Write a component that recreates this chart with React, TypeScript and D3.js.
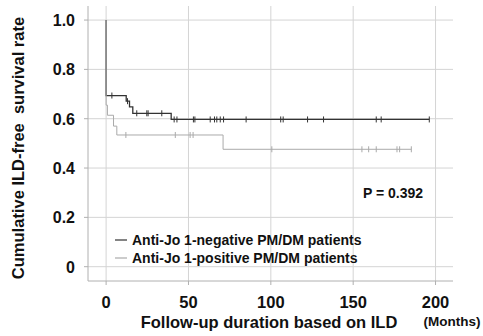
import * as d3 from 'd3';

// Kaplan-Meier steps
const negTimes = [0, 12.2, 14.2, 16.2, 39.5];
const negSurv = [0.694, 0.671, 0.648, 0.622, 0.597];
const negEnd = 196.2;
const negCensored = [3.5, 13, 18.6, 24.7, 25.5, 33.8, 41.3, 43, 53, 53.9, 63.2, 65.8, 67.2, 69.3, 71.3, 85, 106, 107.5, 122.3, 132, 164, 167, 196.2];

const posTimes = [0, 0.8, 4.5, 6.5, 71];
const posSurv = [0.655, 0.614, 0.57, 0.534, 0.476];
const posEnd = 185.3;
const posCensored = [12, 42, 51, 52.8, 100.6, 155.3, 159.4, 164, 176.6, 178.2, 185.3];

const xTicks = [0, 50, 100, 150, 200];
const yTicks = [0, 0.2, 0.4, 0.6, 0.8, 1.0];
const yTickLabels = ['0', '0.2', '0.4', '0.6', '0.8', '1.0'];
const legendLabels = ['Anti-Jo 1-negative PM/DM patients', 'Anti-Jo 1-positive PM/DM patients'];

const W = 483;
const H = 336;
const left = 88, right = 453, top = 6, bottom = 281;

export default function App() {
  const x = d3.scaleLinear().domain([-11, 210.6]).range([left, right]);
  const y = d3.scaleLinear().domain([-0.058, 1.057]).range([bottom, top]);

  const stepLine = d3.line<[number, number]>()
    .x(d => x(d[0]))
    .y(d => y(d[1]))
    .curve(d3.curveStepAfter);

  // survival at time t for censor marks
  const survAt = (times: number[], surv: number[], t: number) => {
    let s = surv[0];
    times.forEach((tt, i) => { if (t >= tt) s = surv[i]; });
    return s;
  };

  const buildPts = (times: number[], surv: number[], end: number): [number, number][] => {
    const pts: [number, number][] = [[0, 1]];
    times.forEach((t, i) => pts.push([t, surv[i]]));
    pts.push([end, surv[surv.length - 1]]);
    return pts;
  };

  const series = [
    { times: negTimes, surv: negSurv, end: negEnd, cens: negCensored, color: '#333', width: 1.3 },
    { times: posTimes, surv: posSurv, end: posEnd, cens: posCensored, color: '#aaa', width: 1 },
  ];

  const font = 'Liberation Sans, Arial, sans-serif';

  return (
    <svg width={W} height={H} style={{ position: 'absolute', left: 0, top: 0 }} fontFamily={font}>
      <rect width={W} height={H} fill="#fff" />
      {/* grid */}
      {yTicks.map(t => (
        <line key={'gy' + t} x1={left} x2={right} y1={y(t)} y2={y(t)} stroke="#d4d4d4" strokeWidth={1} />
      ))}
      {xTicks.map(t => (
        <line key={'gx' + t} x1={x(t)} x2={x(t)} y1={top} y2={bottom} stroke="#d4d4d4" strokeWidth={1} />
      ))}
      {/* axes */}
      <line x1={left} x2={left} y1={top} y2={bottom} stroke="#b0b0b0" />
      <line x1={left} x2={right} y1={bottom} y2={bottom} stroke="#b0b0b0" />
      {yTicks.map((t, i) => (
        <g key={'yt' + t}>
          <line x1={left - 4} x2={left} y1={y(t)} y2={y(t)} stroke="#b0b0b0" />
          <text x={75} y={y(t) + 6} textAnchor="end" fontSize={16} fontWeight="bold" fill="#111">
            {yTickLabels[i]}
          </text>
        </g>
      ))}
      {xTicks.map(t => (
        <g key={'xt' + t}>
          <line x1={x(t)} x2={x(t)} y1={bottom} y2={bottom + 4} stroke="#b0b0b0" />
          <text x={x(t)} y={307.5} textAnchor="middle" fontSize={16.5} fontWeight="bold" fill="#111">
            {t}
          </text>
        </g>
      ))}
      {/* curves */}
      {series.map((s, k) => (
        <g key={'s' + k}>
          <path d={stepLine(buildPts(s.times, s.surv, s.end)) || ''} fill="none" stroke={s.color} strokeWidth={s.width} />
          {s.cens.map((c, j) => {
            const cy = y(survAt(s.times, s.surv, c));
            return (
              <g key={j} stroke={s.color} strokeWidth={1}>
                <line x1={x(c)} x2={x(c)} y1={cy - 3} y2={cy + 3} />
              </g>
            );
          })}
        </g>
      ))}
      {/* P value */}
      <text x={363} y={198} fontSize={14} fontWeight="bold" fill="#111">P = 0.392</text>
      {/* legend */}
      {legendLabels.map((l, i) => (
        <g key={l}>
          <line x1={115} x2={127} y1={240 + i * 18} y2={240 + i * 18} stroke={series[i].color} strokeWidth={1.2} />
          <text x={132} y={245 + i * 18} fontSize={14} fontWeight="bold" fill="#111">{l}</text>
        </g>
      ))}
      {/* axis titles */}
      <text x={269} y={328} textAnchor="middle" fontSize={16.5} fontWeight="bold" fill="#111">
        Follow-up duration based on ILD
      </text>
      <text x={452} y={326} textAnchor="middle" fontSize={13.5} fontWeight="bold" fill="#111">(Months)</text>
      <text transform="translate(24,148) rotate(-90)" textAnchor="middle" fontSize={16.5} fontWeight="bold" fill="#111"
        style={{ whiteSpace: 'pre' }}>
        {'Cumulative ILD-free  survival rate'}
      </text>
    </svg>
  );
}
